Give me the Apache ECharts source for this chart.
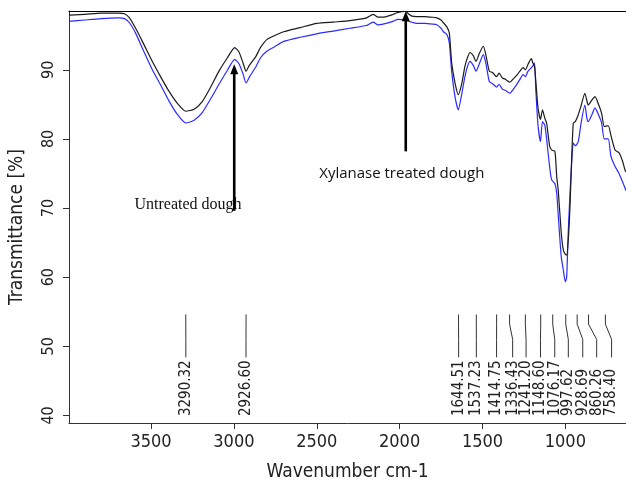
<!DOCTYPE html>
<html>
<head>
<meta charset="utf-8">
<title>FTIR spectra of dough</title>
<script src="https://cdn.jsdelivr.net/npm/echarts@6/dist/echarts.min.js"></script>
<style>
  html, body { margin: 0; padding: 0; background: #fff; }
  #chart { width: 626px; height: 483px; }
</style>
</head>
<body>
<div id="chart"></div>
<script>
// wavenumber grid (cm-1), shared by both spectra
const wavenumbers = [
  3995, 3900, 3800, 3700, 3660, 3630, 3593, 3550, 3492, 3440, 3392, 3340, 3290, 3240, 3191, 3140,
  3090, 3040, 2995, 2970, 2945, 2927, 2905, 2868, 2840, 2800, 2750, 2700, 2600, 2500, 2400, 2300,
  2200, 2160, 2130, 2100, 2040, 2010, 1968, 1930, 1897, 1850, 1800, 1776, 1750, 1736, 1715, 1700,
  1686, 1665, 1646, 1625, 1606, 1590, 1575, 1555, 1539, 1520, 1495, 1480, 1459, 1440, 1415, 1400,
  1380, 1360, 1336, 1310, 1290, 1274, 1255, 1241, 1225, 1205, 1195, 1186, 1178, 1165, 1150, 1138,
  1124, 1113, 1095, 1083, 1063, 1052, 1043, 1025, 1012, 1000, 992, 982, 972, 962, 952, 940,
  922, 905, 882, 870, 862, 840, 821, 800, 781, 765, 741, 725, 700, 676, 655, 640, 634
];

// black trace
const untreated = [
  97.9, 98.0, 98.2, 98.2, 98.1, 97.5, 96.0, 94.0, 91.2, 88.9, 86.9, 85.1, 84.0, 84.3, 85.4, 87.5,
  89.8, 91.7, 93.2, 92.6, 91.0, 89.8, 90.7, 91.9, 93.2, 94.4, 95.0, 95.5, 96.1, 96.7, 96.9, 97.1,
  97.5, 98.0, 97.6, 97.6, 98.0, 98.3, 98.45, 97.8, 97.7, 97.7, 97.6, 97.5, 97.2, 96.8, 96.2, 95.3,
  91.0, 88.0, 86.4, 88.0, 90.5, 91.8, 92.5, 92.0, 91.2, 92.3, 93.4, 92.2, 89.8, 89.6, 89.0, 89.5,
  88.8, 88.6, 88.2, 88.8, 89.3, 89.8, 90.3, 90.0, 90.8, 91.6, 90.9, 90.5, 88.3, 84.5, 82.8, 84.2,
  83.0, 82.3, 79.0, 78.4, 78.2, 74.5, 72.6, 66.5, 63.9, 63.3, 63.2, 65.5, 70.2, 77.0, 82.3, 82.5,
  83.5, 84.8, 86.6, 85.5, 84.9, 85.6, 86.1, 85.0, 83.7, 81.8, 81.9, 80.5, 78.4, 78.0, 76.8, 75.5, 75.2
];

// blue trace
const xylanase = [
  97.0, 97.2, 97.4, 97.5, 97.4, 96.8, 95.3, 93.0, 90.0, 87.7, 85.5, 83.5, 82.3, 82.7, 83.8, 85.8,
  87.9, 89.9, 91.5, 90.9, 89.4, 88.1, 89.0, 90.4, 91.7, 92.7, 93.4, 94.1, 94.7, 95.2, 95.6, 96.0,
  96.4, 96.9, 96.5, 96.6, 97.0, 97.3, 97.2, 96.9, 96.7, 96.7, 96.6, 96.5, 96.0, 95.5, 95.1, 93.9,
  89.8, 86.0, 84.2, 86.5, 89.0, 90.5, 91.2, 90.6, 89.8, 90.8, 92.2, 91.0, 88.3, 88.0, 87.5, 87.9,
  87.2, 87.0, 86.6, 87.3, 88.0, 88.6, 89.3, 89.0, 89.8, 90.3, 90.6, 91.0, 87.0, 82.0, 79.6, 82.5,
  82.0, 80.0, 76.0, 74.1, 73.5, 72.1, 69.0, 63.0, 61.0, 59.3, 60.0, 66.8, 72.0, 76.5, 79.4, 79.0,
  79.6, 82.3, 84.9, 83.0, 82.5, 83.5, 84.5, 83.5, 82.3, 80.0, 80.0, 77.5, 76.0, 75.0, 73.8, 72.9, 72.5
];

const xTicks = [1000, 1500, 2000, 2500, 3000, 3500];
const yTicks = [40, 50, 60, 70, 80, 90];

// picked peaks and where their (spread out) labels sit
const peakWn = [3290.32, 2926.60, 1644.51, 1537.23, 1414.75, 1336.43, 1241.20, 1148.60, 1076.17, 997.62, 928.69, 860.26, 758.40];
const peakLabelWn = [3290, 2927, 1644, 1537, 1415, 1318, 1237, 1150, 1064, 982, 895, 811, 721];

// annotation arrows: wavenumber, tail %T, head %T
const arrowWn = [2998, 1963];
const arrowFrom = [69.6, 78.2];
const arrowTo = [90.8, 98.45];

const noteText = ['Untreated dough', 'Xylanase treated dough'];
const noteWn = [3277, 1987];
const noteT = [70.4, 74.9];
const noteFont = ['16px "Liberation Serif", serif', '15px "Open Sans", sans-serif'];

const narrow = '"Liberation Sans Narrow", "DejaVu Sans Condensed", "Liberation Sans", sans-serif';

const chart = echarts.init(document.getElementById('chart'), null, { renderer: 'canvas' });

function renderPeak(params, api) {
  const i = params.dataIndex;
  const top = api.coord([api.value(0), 54.6]);
  const bend1 = api.coord([api.value(0), 53.2]);
  const bend2 = api.coord([api.value(2), 51.0]);
  const bottom = api.coord([api.value(2), 48.4]);
  const textAt = api.coord([api.value(2), 39.9]);
  return {
    type: 'group',
    children: [
      {
        type: 'polyline',
        shape: { points: [top, bend1, bend2, bottom] },
        style: { stroke: '#333', lineWidth: 1, fill: null }
      },
      {
        type: 'text',
        x: textAt[0],
        y: textAt[1],
        rotation: Math.PI / 2,
        style: {
          text: peakWn[i].toFixed(2),
          font: '15px ' + narrow,
          fill: '#222',
          align: 'left',
          verticalAlign: 'middle'
        }
      }
    ]
  };
}

function renderArrow(params, api) {
  const i = params.dataIndex;
  const tail = api.coord([api.value(0), api.value(1)]);
  const head = api.coord([api.value(0), api.value(2)]);
  const headLen = 10, headHalf = 4;
  const note = api.coord([noteWn[i], noteT[i]]);
  return {
    type: 'group',
    children: [
      {
        type: 'line',
        shape: { x1: tail[0], y1: tail[1], x2: head[0], y2: head[1] + headLen - 1 },
        style: { stroke: '#000', lineWidth: 2.6 }
      },
      {
        type: 'polygon',
        shape: { points: [[head[0], head[1]], [head[0] - headHalf, head[1] + headLen], [head[0] + headHalf, head[1] + headLen]] },
        style: { fill: '#000' }
      },
      {
        type: 'text',
        x: note[0],
        y: note[1],
        style: {
          text: noteText[i],
          font: noteFont[i],
          fill: '#111',
          align: 'center',
          verticalAlign: 'middle'
        }
      }
    ]
  };
}

const plain = v => String(v);

const option = {
  animation: false,
  backgroundColor: '#fff',
  grid: { left: 69, right: 0, top: 11, bottom: 60, containLabel: false, outerBoundsMode: 'none' },
  xAxis: [
    {
      type: 'value',
      inverse: true,
      min: 634,
      max: 3995,
      name: 'Wavenumber cm-1',
      nameLocation: 'middle',
      nameGap: 40,
      nameTextStyle: { fontSize: 19, fontFamily: narrow, color: '#222' },
      axisLine: { lineStyle: { color: '#333', width: 1 } },
      axisTick: { show: true, length: 6, lineStyle: { color: '#333' }, customValues: xTicks },
      axisLabel: { customValues: xTicks, formatter: plain, margin: 10, fontSize: 18, fontFamily: narrow, color: '#222' },
      splitLine: { show: false }
    },
    {
      type: 'value',
      position: 'top',
      inverse: true,
      min: 634,
      max: 3995,
      axisLine: { show: true, lineStyle: { color: '#000', width: 1.2 } },
      axisTick: { show: false },
      axisLabel: { show: false },
      splitLine: { show: false }
    }
  ],
  yAxis: {
    type: 'value',
    min: 38.9,
    max: 98.5,
    name: 'Transmittance [%]',
    nameLocation: 'middle',
    nameGap: 42,
    nameTextStyle: { fontSize: 19, fontFamily: narrow, color: '#222', padding: [0, 20, 0, 0] },
    axisLine: { show: true, lineStyle: { color: '#333', width: 1 } },
    axisTick: { show: true, length: 6, lineStyle: { color: '#333' }, customValues: yTicks },
    axisLabel: { customValues: yTicks, formatter: plain, rotate: 90, margin: 12, fontSize: 16, fontFamily: narrow, color: '#222' },
    splitLine: { show: false }
  },
  series: [
    {
      name: 'Xylanase treated dough',
      type: 'line',
      data: wavenumbers.map((w, i) => [w, xylanase[i]]),
      showSymbol: false,
      smooth: 0.2,
      lineStyle: { color: '#2b2bff', width: 1.2 },
      z: 2
    },
    {
      name: 'Untreated dough',
      type: 'line',
      data: wavenumbers.map((w, i) => [w, untreated[i]]),
      showSymbol: false,
      smooth: 0.2,
      lineStyle: { color: '#1a1a1a', width: 1.2 },
      z: 3
    },
    {
      name: 'peaks',
      type: 'custom',
      renderItem: renderPeak,
      data: peakWn.map((w, i) => [w, 50, peakLabelWn[i]]),
      encode: { x: 0, y: 1 },
      silent: true,
      z: 4
    },
    {
      name: 'arrows',
      type: 'custom',
      renderItem: renderArrow,
      data: arrowWn.map((w, i) => [w, arrowFrom[i], arrowTo[i]]),
      encode: { x: 0, y: 1 },
      silent: true,
      z: 5
    }
  ]
};

chart.setOption(option);
window.addEventListener('resize', () => chart.resize());
</script>
</body>
</html>
